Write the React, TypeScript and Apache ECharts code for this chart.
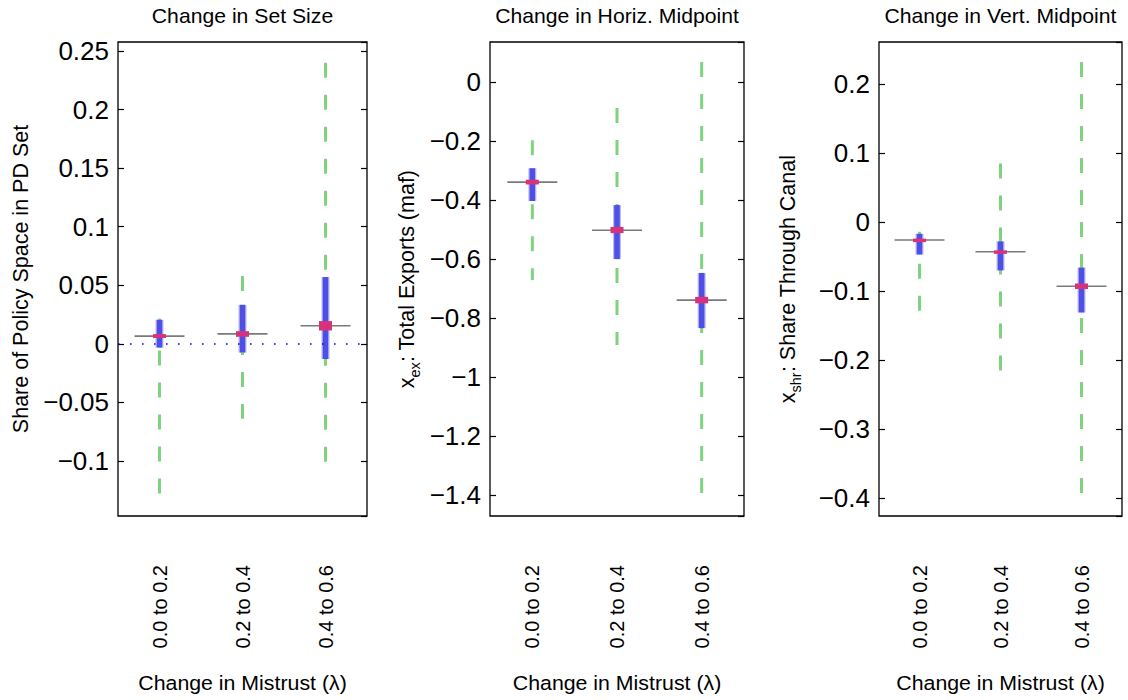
import { useEffect, useRef } from 'react';
import * as echarts from 'echarts';

const categories = ['0.0 to 0.2', '0.2 to 0.4', '0.4 to 0.6'];
const panelTitles = ['Change in Set Size', 'Change in Horiz. Midpoint', 'Change in Vert. Midpoint'];
const xAxisTitle = 'Change in Mistrust (\u03bb)';

// Panel 1: Share of Policy Space in PD Set
const setWhiskerLow = [-0.128, -0.064, -0.102];
const setQ1 = [-0.0032, -0.0074, -0.013];
const setMedian = [0.0066, 0.0085, 0.0154];
const setQ3 = [0.0205, 0.0333, 0.057];
const setWhiskerHigh = [0.0216, 0.058, 0.24];
const setNotchLow = [0.005, 0.006, 0.0114];
const setNotchHigh = [0.0083, 0.0108, 0.0194];

// Panel 2: x_ex Total Exports (maf)
const horWhiskerLow = [-0.671, -0.891, -1.397];
const horQ1 = [-0.403, -0.6, -0.834];
const horMedian = [-0.339, -0.502, -0.739];
const horQ3 = [-0.292, -0.417, -0.647];
const horWhiskerHigh = [-0.197, -0.088, 0.068];
const horNotchLow = [-0.347, -0.512, -0.75];
const horNotchHigh = [-0.331, -0.491, -0.728];

// Panel 3: x_shr Share Through Canal
const verWhiskerLow = [-0.13, -0.216, -0.393];
const verQ1 = [-0.047, -0.07, -0.131];
const verMedian = [-0.026, -0.043, -0.093];
const verQ3 = [-0.017, -0.028, -0.066];
const verWhiskerHigh = [-0.014, 0.085, 0.232];
const verNotchLow = [-0.029, -0.046, -0.097];
const verNotchHigh = [-0.024, -0.041, -0.089];

// axis ranges [min, max, step]
const setAxis = [-0.147, 0.2577, 0.05];
const horAxis = [-1.471, 0.136, 0.2];
const verAxis = [-0.426, 0.261, 0.1];

const FONT = 'Liberation Sans, Arial, Helvetica, sans-serif';
const GREEN = '#7fd37f';
const BLUE = '#4f4fe6';
const PINK = '#d8337a';
const GRAY = '#7a7a7a';

const layout = [
  { left: 118, width: 249, labelX: 21 },
  { left: 490, width: 254, labelX: 407 },
  { left: 879, width: 243, labelX: 788 },
];
const TOP = 42;
const HEIGHT = 474;

function fmt(v: number) {
  const r = Math.round(v * 10000) / 10000;
  if (r === 0) return '0';
  return (r < 0 ? '\u2212' : '') + String(Math.abs(r));
}

function buildRows(lo: number[], q1: number[], med: number[], q3: number[], hi: number[], nlo: number[], nhi: number[]) {
  return categories.map((_, i) => [i, lo[i], q1[i], med[i], q3[i], hi[i], nlo[i], nhi[i]]);
}

const renderBox = (params: any, api: any) => {
  const x = api.value(0);
  const p = (k: number) => api.coord([x, api.value(k)]);
  const lo = p(1), q1 = p(2), med = p(3), q3 = p(4), hi = p(5), nlo = p(6), nhi = p(7);
  const cx = med[0];
  const h = Math.max(nlo[1] - nhi[1], 3.5);
  return {
    type: 'group',
    children: [
      { type: 'line', shape: { x1: cx, y1: hi[1], x2: cx, y2: lo[1] }, style: { stroke: GREEN, lineWidth: 3, lineDash: [15, 17] } },
      { type: 'line', shape: { x1: cx, y1: q3[1], x2: cx, y2: q1[1] }, style: { stroke: '#b9b9f3', lineWidth: 8 } },
      { type: 'line', shape: { x1: cx, y1: q3[1], x2: cx, y2: q1[1] }, style: { stroke: BLUE, lineWidth: 5.5 } },
      { type: 'line', shape: { x1: cx - 25, y1: med[1], x2: cx + 25, y2: med[1] }, style: { stroke: GRAY, lineWidth: 1.6 } },
      { type: 'rect', shape: { x: cx - 6.5, y: (nlo[1] + nhi[1]) / 2 - h / 2, width: 13, height: h }, style: { fill: PINK } },
    ],
  };
};

export default function App() {
  const ref = useRef<HTMLDivElement>(null);
  useEffect(() => {
    if (!ref.current) return;
    const chart = echarts.init(ref.current, null, { renderer: 'svg' });
    const axes = [setAxis, horAxis, verAxis];
    const rows = [
      buildRows(setWhiskerLow, setQ1, setMedian, setQ3, setWhiskerHigh, setNotchLow, setNotchHigh),
      buildRows(horWhiskerLow, horQ1, horMedian, horQ3, horWhiskerHigh, horNotchLow, horNotchHigh),
      buildRows(verWhiskerLow, verQ1, verMedian, verQ3, verWhiskerHigh, verNotchLow, verNotchHigh),
    ];
    const grids = layout.map((l) => ({
      left: l.left, top: TOP, width: l.width, height: HEIGHT,
      show: true, borderColor: '#000', borderWidth: 1.3, backgroundColor: '#fff',
    }));
    const xAxes = layout.map((_, i) => ({
      type: 'category', gridIndex: i, data: categories, boundaryGap: true,
      axisLine: { show: false }, axisTick: { show: false }, splitLine: { show: false },
      axisLabel: { rotate: 90, margin: 49, fontSize: 20, color: '#000', fontFamily: FONT },
    }));
    const yLeft = axes.map((a, i) => ({
      type: 'value', gridIndex: i, position: 'left', min: a[0], max: a[1], minInterval: a[2], maxInterval: a[2],
      splitNumber: 8,
      axisLine: { show: false }, splitLine: { show: false },
      axisTick: { show: true, inside: true, length: 6, lineStyle: { color: '#000', width: 1.2 } },
      axisLabel: { show: true, margin: 9, fontSize: 26, color: '#000', fontFamily: FONT, formatter: fmt, showMinLabel: false, showMaxLabel: false },
    }));
    const yRight = axes.map((a, i) => ({
      type: 'value', gridIndex: i, position: 'right', min: a[0], max: a[1], minInterval: a[2], maxInterval: a[2],
      splitNumber: 8,
      axisLine: { show: false }, splitLine: { show: false },
      axisTick: { show: true, inside: true, length: 6, lineStyle: { color: '#000', width: 1.2 } },
      axisLabel: { show: false },
    }));
    const series: any[] = rows.map((data, i) => ({
      type: 'custom', xAxisIndex: i, yAxisIndex: i, data, renderItem: renderBox,
      encode: { x: 0, y: [1, 2, 3, 4, 5] }, silent: true,
      ...(i === 0 ? {
        markLine: {
          silent: true, symbol: 'none', label: { show: false },
          lineStyle: { color: '#0000ff', width: 1.6, type: [1.6, 10.4] },
          data: [{ yAxis: 0 }],
        },
      } : {}),
    }));
    const graphic: any[] = [];
    layout.forEach((l, i) => {
      const cx = l.left + l.width / 2;
      graphic.push({ type: 'text', x: cx, y: 16, scaleX: 1.06, style: { text: panelTitles[i], fontSize: 20, fontFamily: FONT, fill: '#000', align: 'center', verticalAlign: 'middle' } });
      graphic.push({ type: 'text', x: cx, y: 683, scaleX: 1.04, style: { text: xAxisTitle, fontSize: 20.5, fontFamily: FONT, fill: '#000', align: 'center', verticalAlign: 'middle' } });
    });
    const rich = {
      m: { fontSize: 21.5, fontFamily: FONT, fill: '#000', color: '#000', lineHeight: 30, verticalAlign: 'middle' },
      s: { fontSize: 14.5, fontFamily: FONT, fill: '#000', color: '#000', lineHeight: 15, verticalAlign: 'bottom' },
    };
    const labelY = TOP + HEIGHT / 2;
    graphic.push({ type: 'text', x: layout[0].labelX, y: labelY, rotation: Math.PI / 2, style: { text: 'Share of Policy Space in PD Set', fontSize: 21.5, fontFamily: FONT, fill: '#000', align: 'center', verticalAlign: 'middle' } });
    graphic.push({ type: 'text', x: layout[1].labelX, y: labelY, rotation: Math.PI / 2, style: { text: '{m|x}{s|ex}{m|: Total Exports (maf)}', rich, align: 'center', verticalAlign: 'middle' } });
    graphic.push({ type: 'text', x: layout[2].labelX, y: labelY, rotation: Math.PI / 2, style: { text: '{m|x}{s|shr}{m|: Share Through Canal}', rich, align: 'center', verticalAlign: 'middle' } });

    chart.setOption({
      animation: false,
      backgroundColor: '#fff',
      grid: grids,
      xAxis: xAxes,
      yAxis: [...yLeft, ...yRight],
      series,
      graphic,
    });
    return () => chart.dispose();
  }, []);
  return <div ref={ref} style={{ position: 'absolute', left: 0, top: 0, width: 1128, height: 700 }} />;
}
